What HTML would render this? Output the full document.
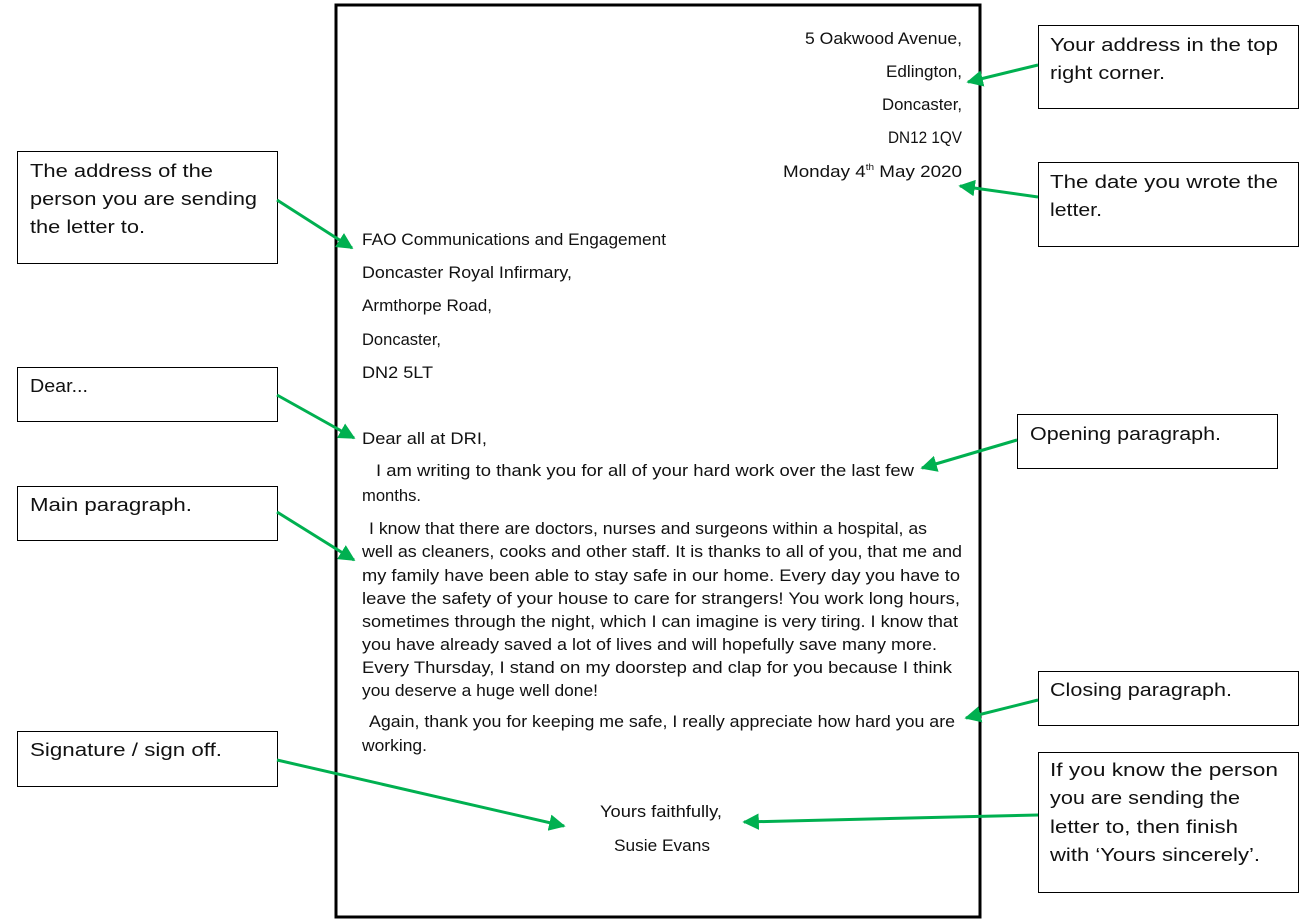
<!DOCTYPE html>
<html><head><meta charset="utf-8"><style>
html,body{margin:0;padding:0;background:#fff;}
svg{display:block;}
text{font-family:"Liberation Sans","DejaVu Sans",sans-serif;fill:#111;}
.l{font-size:17px;}
.b{font-size:18px;}
</style></head><body>
<svg width="1312" height="923" viewBox="0 0 1312 923" xmlns="http://www.w3.org/2000/svg">
<defs><marker id="a" viewBox="0 0 10 10" refX="9" refY="5" markerWidth="5.5" markerHeight="5.5" orient="auto"><path d="M0,0 L10,5 L0,10 z" fill="#00b050"/></marker></defs>
<rect x="336" y="5" width="644" height="912" fill="none" stroke="#000" stroke-width="3"/>
<g fill="#fff" stroke="#000" stroke-width="1">
<rect x="1038.5" y="25.5" width="260" height="83"/>
<rect x="1038.5" y="162.5" width="260" height="84"/>
<rect x="17.5" y="151.5" width="260" height="112"/>
<rect x="17.5" y="367.5" width="260" height="54"/>
<rect x="17.5" y="486.5" width="260" height="54"/>
<rect x="1017.5" y="414.5" width="260" height="54"/>
<rect x="1038.5" y="671.5" width="260" height="54"/>
<rect x="17.5" y="731.5" width="260" height="55"/>
<rect x="1038.5" y="752.5" width="260" height="140"/>
</g>
<g stroke="#00b050" stroke-width="3" marker-end="url(#a)">
<line x1="1038" y1="65" x2="968" y2="82"/>
<line x1="1038" y1="197" x2="960" y2="186"/>
<line x1="277" y1="200" x2="352" y2="248"/>
<line x1="277" y1="395" x2="354" y2="438"/>
<line x1="1017" y1="440" x2="922" y2="468"/>
<line x1="277" y1="512" x2="354" y2="560"/>
<line x1="1038" y1="700" x2="966" y2="718"/>
<line x1="277" y1="760" x2="564" y2="826"/>
<line x1="1038" y1="815" x2="744" y2="822"/>
</g>
<g class="l">
<text x="805" y="44" textLength="157" lengthAdjust="spacingAndGlyphs">5 Oakwood Avenue,</text>
<text x="886" y="77" textLength="76" lengthAdjust="spacingAndGlyphs">Edlington,</text>
<text x="882" y="110" textLength="80" lengthAdjust="spacingAndGlyphs">Doncaster,</text>
<text x="888" y="143" textLength="74" lengthAdjust="spacingAndGlyphs">DN12 1QV</text>
<text x="783" y="177" textLength="179" lengthAdjust="spacingAndGlyphs">Monday 4<tspan font-size="9" dy="-7">th</tspan><tspan dy="7"> May 2020</tspan></text>
<text x="362" y="245" textLength="304" lengthAdjust="spacingAndGlyphs">FAO Communications and Engagement</text>
<text x="362" y="278" textLength="210" lengthAdjust="spacingAndGlyphs">Doncaster Royal Infirmary,</text>
<text x="362" y="311" textLength="130" lengthAdjust="spacingAndGlyphs">Armthorpe Road,</text>
<text x="362" y="345" textLength="79" lengthAdjust="spacingAndGlyphs">Doncaster,</text>
<text x="362" y="378" textLength="71" lengthAdjust="spacingAndGlyphs">DN2 5LT</text>
<text x="362" y="444" textLength="125" lengthAdjust="spacingAndGlyphs">Dear all at DRI,</text>
<text x="376" y="476" textLength="538" lengthAdjust="spacingAndGlyphs">I am writing to thank you for all of your hard work over the last few</text>
<text x="362" y="501" textLength="59" lengthAdjust="spacingAndGlyphs">months.</text>
<text x="369" y="534" textLength="558" lengthAdjust="spacingAndGlyphs">I know that there are doctors, nurses and surgeons within a hospital, as</text>
<text x="362" y="557" textLength="600" lengthAdjust="spacingAndGlyphs">well as cleaners, cooks and other staff. It is thanks to all of you, that me and</text>
<text x="362" y="581" textLength="598" lengthAdjust="spacingAndGlyphs">my family have been able to stay safe in our home. Every day you have to</text>
<text x="362" y="604" textLength="598" lengthAdjust="spacingAndGlyphs">leave the safety of your house to care for strangers! You work long hours,</text>
<text x="362" y="627" textLength="596" lengthAdjust="spacingAndGlyphs">sometimes through the night, which I can imagine is very tiring. I know that</text>
<text x="362" y="650" textLength="575" lengthAdjust="spacingAndGlyphs">you have already saved a lot of lives and will hopefully save many more.</text>
<text x="362" y="673" textLength="590" lengthAdjust="spacingAndGlyphs">Every Thursday, I stand on my doorstep and clap for you because I think</text>
<text x="362" y="696" textLength="236" lengthAdjust="spacingAndGlyphs">you deserve a huge well done!</text>
<text x="369" y="727" textLength="586" lengthAdjust="spacingAndGlyphs">Again, thank you for keeping me safe, I really appreciate how hard you are</text>
<text x="362" y="751" textLength="65" lengthAdjust="spacingAndGlyphs">working.</text>
<text x="600" y="817" textLength="122" lengthAdjust="spacingAndGlyphs">Yours faithfully,</text>
<text x="614" y="851" textLength="96" lengthAdjust="spacingAndGlyphs">Susie Evans</text>
</g>
<g class="b">
<text x="1050" y="51" textLength="228" lengthAdjust="spacingAndGlyphs">Your address in the top</text>
<text x="1050" y="79" textLength="115" lengthAdjust="spacingAndGlyphs">right corner.</text>
<text x="1050" y="188" textLength="228" lengthAdjust="spacingAndGlyphs">The date you wrote the</text>
<text x="1050" y="216" textLength="52" lengthAdjust="spacingAndGlyphs">letter.</text>
<text x="30" y="177" textLength="183" lengthAdjust="spacingAndGlyphs">The address of the</text>
<text x="30" y="205" textLength="227" lengthAdjust="spacingAndGlyphs">person you are sending</text>
<text x="30" y="233" textLength="115" lengthAdjust="spacingAndGlyphs">the letter to.</text>
<text x="30" y="392" textLength="58" lengthAdjust="spacingAndGlyphs">Dear...</text>
<text x="30" y="511" textLength="162" lengthAdjust="spacingAndGlyphs">Main paragraph.</text>
<text x="1030" y="440" textLength="191" lengthAdjust="spacingAndGlyphs">Opening paragraph.</text>
<text x="1050" y="696" textLength="182" lengthAdjust="spacingAndGlyphs">Closing paragraph.</text>
<text x="30" y="756" textLength="192" lengthAdjust="spacingAndGlyphs">Signature / sign off.</text>
<text x="1050" y="776" textLength="228" lengthAdjust="spacingAndGlyphs">If you know the person</text>
<text x="1050" y="804" textLength="190" lengthAdjust="spacingAndGlyphs">you are sending the</text>
<text x="1050" y="833" textLength="188" lengthAdjust="spacingAndGlyphs">letter to, then finish</text>
<text x="1050" y="861" textLength="210" lengthAdjust="spacingAndGlyphs">with ‘Yours sincerely’.</text>
</g>
</svg>
</body></html>
